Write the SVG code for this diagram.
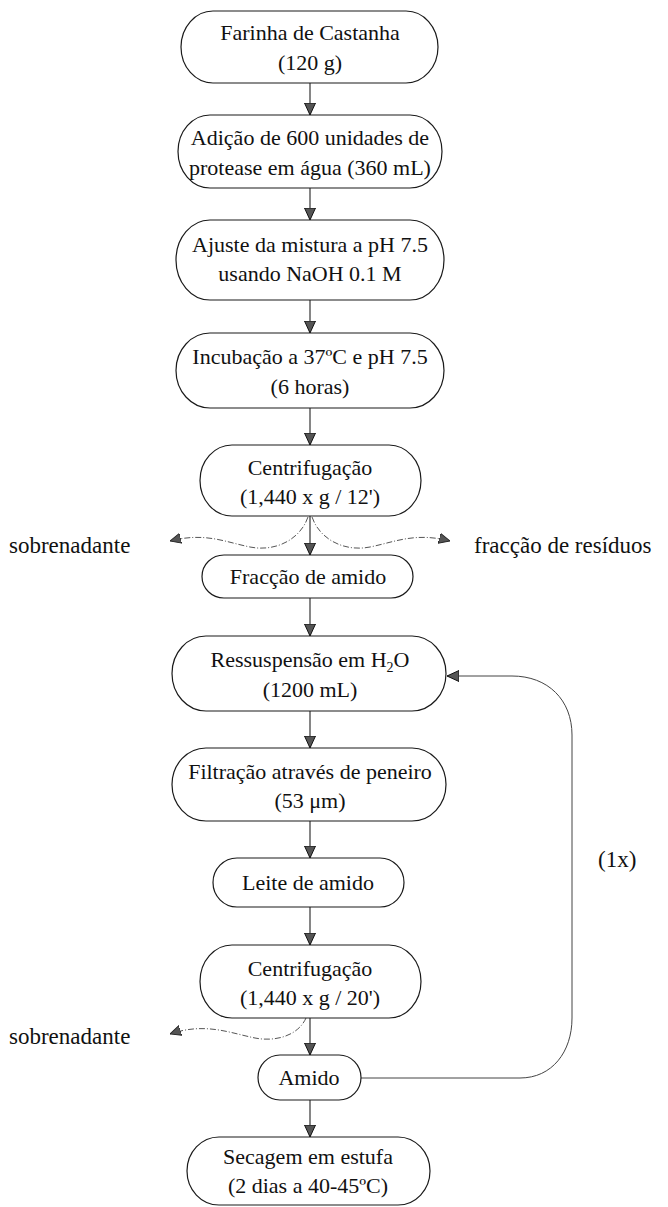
<svg xmlns="http://www.w3.org/2000/svg" width="668" height="1207" viewBox="0 0 668 1207">
<style>
.box{fill:#fff;stroke:#1a1a1a;stroke-width:1.2}
.t{font-family:"Liberation Serif","Times New Roman",serif;font-size:22px;fill:#111;text-anchor:middle}
.lbl{font-family:"Liberation Serif","Times New Roman",serif;font-size:23px;fill:#111}
.flow{fill:none;stroke:#222;stroke-width:1.1}
.side{fill:none;stroke:#555;stroke-width:1;stroke-dasharray:6 2 1 2}
.loop{fill:none;stroke:#444;stroke-width:1}
</style>
<defs>
<marker id="ah" viewBox="0 0 12 12" refX="12" refY="6" markerWidth="12" markerHeight="12" markerUnits="userSpaceOnUse" orient="auto">
<path d="M0,0.5 L12,6 L0,11.5 Z" fill="#555" stroke="#111" stroke-width="1"/>
</marker>
<marker id="sah" viewBox="0 0 12 12" refX="12" refY="6" markerWidth="11" markerHeight="11" markerUnits="userSpaceOnUse" orient="auto">
<path d="M0,0.5 L12,6 L0,11.5 Z" fill="#555" stroke="#222" stroke-width="1"/>
</marker>
</defs>

<g id="connectors">
<line class="flow" x1="310" y1="83" x2="310" y2="115" marker-end="url(#ah)"/>
<line class="flow" x1="310" y1="188" x2="310" y2="220" marker-end="url(#ah)"/>
<line class="flow" x1="310" y1="300" x2="310" y2="333" marker-end="url(#ah)"/>
<line class="flow" x1="310" y1="408" x2="310" y2="445" marker-end="url(#ah)"/>
<line class="flow" x1="310" y1="516" x2="310" y2="555" marker-end="url(#ah)"/>
<line class="flow" x1="310" y1="598" x2="310" y2="636" marker-end="url(#ah)"/>
<line class="flow" x1="310" y1="711" x2="310" y2="748" marker-end="url(#ah)"/>
<line class="flow" x1="310" y1="821" x2="310" y2="858" marker-end="url(#ah)"/>
<line class="flow" x1="310" y1="907" x2="310" y2="945" marker-end="url(#ah)"/>
<line class="flow" x1="310" y1="1018" x2="310" y2="1055" marker-end="url(#ah)"/>
<line class="flow" x1="310" y1="1100" x2="310" y2="1137" marker-end="url(#ah)"/>
<path class="side" d="M308,517 C300,540 275,552 250,547 C225,542 205,532 170,541" marker-end="url(#sah)"/>
<path class="side" d="M312,517 C320,540 345,552 370,547 C395,542 415,532 450,541" marker-end="url(#sah)"/>
<path class="side" d="M306,1018 C298,1036 275,1042 255,1038 C230,1033 205,1022 170,1034" marker-end="url(#sah)"/>
<path class="loop" d="M361,1078 L520,1078 C552,1078 572,1052 572,1018 L572,735 C572,700 548,676 512,676 L447,676" marker-end="url(#ah)"/>
</g>

<g id="n1"><rect class="box" x="181" y="11" width="257" height="72" rx="32" ry="36"/>
<text class="t" x="310" y="40">Farinha de Castanha</text><text class="t" x="310" y="70">(120 g)</text></g>

<g id="n2"><rect class="box" x="178" y="115" width="264" height="73" rx="32" ry="36.5"/>
<text class="t" x="310" y="145">Adição de 600 unidades de</text><text class="t" x="310" y="175">protease em água (360 mL)</text></g>

<g id="n3"><rect class="box" x="176" y="220" width="268" height="80" rx="34" ry="40"/>
<text class="t" x="310" y="252">Ajuste da mistura a pH 7.5</text><text class="t" x="310" y="281">usando NaOH 0.1 M</text></g>

<g id="n4"><rect class="box" x="176" y="333" width="268" height="75" rx="34" ry="37.5"/>
<text class="t" x="310" y="364">Incubação a 37ºC e pH 7.5</text><text class="t" x="310" y="394">(6 horas)</text></g>

<g id="n5"><rect class="box" x="200" y="445" width="221" height="71" rx="32" ry="35.5"/>
<text class="t" x="310" y="475">Centrifugação</text><text class="t" x="310" y="504">(1,440 x g / 12')</text></g>

<g id="n6"><rect class="box" x="202" y="555" width="211" height="43" rx="22" ry="21.5"/>
<text class="t" x="308" y="584">Fracção de amido</text></g>

<g id="n7"><rect class="box" x="172" y="636" width="274" height="75" rx="34" ry="37.5"/>
<text class="t" x="310" y="667">Ressuspensão em H<tspan font-size="14" dy="5">2</tspan><tspan dy="-5">O</tspan></text><text class="t" x="310" y="697">(1200 mL)</text></g>

<g id="n8"><rect class="box" x="172" y="748" width="274" height="73" rx="34" ry="36.5"/>
<text class="t" x="310" y="779">Filtração através de peneiro</text><text class="t" x="310" y="808">(53 μm)</text></g>

<g id="n9"><rect class="box" x="213" y="858" width="191" height="49" rx="24" ry="24.5"/>
<text class="t" x="308" y="890">Leite de amido</text></g>

<g id="n10"><rect class="box" x="200" y="945" width="221" height="73" rx="32" ry="36.5"/>
<text class="t" x="310" y="976">Centrifugação</text><text class="t" x="310" y="1005">(1,440 x g / 20')</text></g>

<g id="n11"><rect class="box" x="258" y="1055" width="103" height="45" rx="22" ry="22.5"/>
<text class="t" x="309" y="1085">Amido</text></g>

<g id="n12"><rect class="box" x="187" y="1137" width="243" height="68" rx="32" ry="34"/>
<text class="t" x="308" y="1164">Secagem em estufa</text><text class="t" x="308" y="1193">(2 dias a 40-45ºC)</text></g>

<g id="labels">
<text class="lbl" x="9" y="553">sobrenadante</text>
<text class="lbl" x="474" y="553">fracção de resíduos</text>
<text class="lbl" x="598" y="867">(1x)</text>
<text class="lbl" x="9" y="1044">sobrenadante</text>
</g>
</svg>
